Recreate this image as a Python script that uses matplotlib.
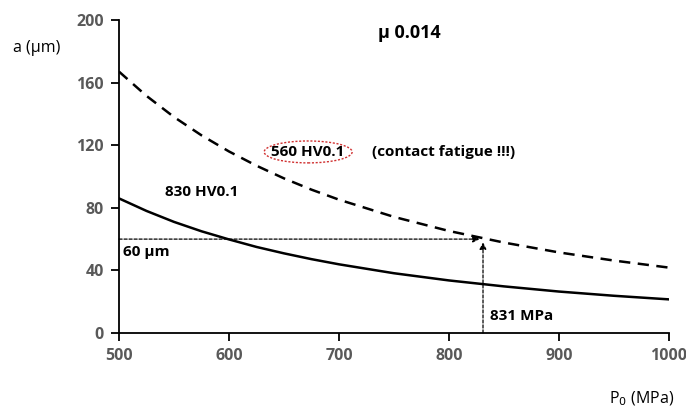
import numpy as np
import matplotlib.pyplot as plt
from matplotlib.patches import Ellipse

plt.rcParams['font.family'] = ['Open Sans', 'DejaVu Sans']

# contact pressure P0 (MPa)
p0 = [500, 525, 550, 575, 600, 625, 650, 675, 700, 750, 800, 850, 900, 950, 1000]
# depth a (um) for the two hardness levels
a_830 = [86, 78, 71, 65, 59.8, 55, 50.9, 47.2, 43.9, 38.2, 33.6, 29.8, 26.5, 23.8, 21.5]
a_560 = [167, 151.5, 138, 126.3, 116, 106.9, 98.8, 91.6, 85.2, 74.2, 65.2, 57.8, 51.5, 46.3, 41.8]

crit_a = 60
crit_p = 831

fig = plt.figure(figsize=(6.86, 4.12), dpi=100)
ax = fig.add_axes([0.1735, 0.1917, 0.8015, 0.7598])

ax.plot(p0, a_830, color='black', lw=1.8)
ax.plot(p0, a_560, color='black', lw=1.8, ls=(0, (4.5, 3)))

# critical depth / pressure markers
ax.annotate('', xy=(crit_p - 3, crit_a), xytext=(500, crit_a),
            arrowprops=dict(arrowstyle='-|>', ls=(0, (2.5, 1.5)), lw=0.9,
                            color='black', mutation_scale=10, shrinkA=0, shrinkB=0))
ax.annotate('', xy=(crit_p, crit_a - 2), xytext=(crit_p, 0),
            arrowprops=dict(arrowstyle='-|>', ls=(0, (2.5, 1.5)), lw=0.9,
                            color='black', mutation_scale=10, shrinkA=0, shrinkB=0))

ax.set_xlim(500, 1000)
ax.set_ylim(0, 200)
ax.set_xticks(range(500, 1001, 100))
ax.set_yticks(range(0, 201, 40))
for s in ['top', 'right']:
    ax.spines[s].set_visible(False)
for s in ['left', 'bottom']:
    ax.spines[s].set_linewidth(1.3)
ax.tick_params(axis='both', length=6, width=1.3, labelsize=11.5, labelcolor='#595959', pad=5)
for lab in ax.get_xticklabels() + ax.get_yticklabels():
    lab.set_fontweight('bold')

fig.text(0.054, 0.883, 'a (\u03bcm)', fontsize=11.5, ha='center', va='center')
fig.text(0.935, 0.033, 'P$_0$ (MPa)', fontsize=11.5, ha='center', va='center')

ax.text(764, 192, '\u03bc 0.014', fontsize=13, fontweight='bold', ha='center', va='center')
ax.text(672, 115.7, '560 HV0.1', fontsize=11, fontweight='bold', ha='center', va='center')
ax.add_patch(Ellipse((672, 115.7), 80, 14, fill=False, ec='#d03030', ls=(0, (1.5, 1.2)), lw=1))
ax.text(730, 115.7, '(contact fatigue !!!)', fontsize=11, fontweight='bold', ha='left', va='center')
ax.text(542, 90, '830 HV0.1', fontsize=11, fontweight='bold', ha='left', va='center')
ax.text(504, 51.5, '60 \u03bcm', fontsize=11, fontweight='bold', ha='left', va='center')
ax.text(837, 11, '831 MPa', fontsize=11, fontweight='bold', ha='left', va='center')

fig.savefig('out.png', dpi=100)
